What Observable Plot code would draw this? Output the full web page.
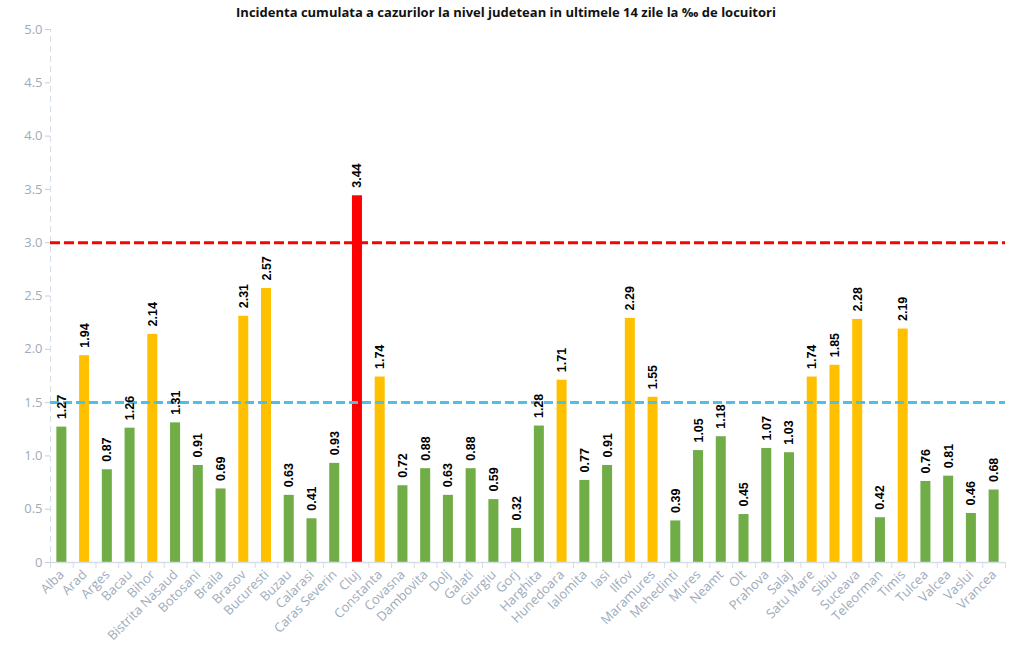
<!DOCTYPE html>
<html><head><meta charset="utf-8">
<script src="https://cdn.jsdelivr.net/npm/d3@7"></script>
<script src="https://cdn.jsdelivr.net/npm/@observablehq/plot@0.6"></script>
<style>
body{margin:0;background:#fff;font-family:"Open Sans",sans-serif;}
#title{height:24px;line-height:24px;text-align:center;font-weight:bold;font-size:13px;color:#111;width:1012px;}
</style></head>
<body>
<div id="title">Incidenta cumulata a cazurilor la nivel judetean in ultimele 14 zile la ‰ de locuitori</div>
<div id="chart"></div>
<script>
const counties = ["Alba","Arad","Arges","Bacau","Bihor","Bistrita Nasaud","Botosani","Braila","Brasov","Bucuresti","Buzau","Calarasi","Caras Severin","Cluj","Constanta","Covasna","Dambovita","Dolj","Galati","Giurgiu","Gorj","Harghita","Hunedoara","Ialomita","Iasi","Ilfov","Maramures","Mehedinti","Mures","Neamt","Olt","Prahova","Salaj","Satu Mare","Sibiu","Suceava","Teleorman","Timis","Tulcea","Valcea","Vaslui","Vrancea"];
const values = [1.27,1.94,0.87,1.26,2.14,1.31,0.91,0.69,2.31,2.57,0.63,0.41,0.93,3.44,1.74,0.72,0.88,0.63,0.88,0.59,0.32,1.28,1.71,0.77,0.91,2.29,1.55,0.39,1.05,1.18,0.45,1.07,1.03,1.74,1.85,2.28,0.42,2.19,0.76,0.81,0.46,0.68];
const thresholds = [1.5, 3.0];
const yTicks = [0,0.5,1.0,1.5,2.0,2.5,3.0,3.5,4.0,4.5,5.0];

const data = counties.map((c,i)=>({county:c, value:values[i]}));
const colorOf = v => v > thresholds[1] ? "#ff0000" : v >= thresholds[0] ? "#ffc000" : "#70ad47";

const W = 1012, H = 622, mL = 50, mR = 7, mT = 5, mB = 84;
const step = (W - mL - mR) / counties.length;
const pxPerUnit = (H - mT - mB) / 5;
const grey = "#9eabbb";

const chart = Plot.plot({
  width: W, height: H,
  marginLeft: mL, marginRight: mR, marginTop: mT, marginBottom: mB,
  style: {fontFamily: "'Open Sans', sans-serif", background: "#fff"},
  x: {domain: counties, paddingInner: 0.56, paddingOuter: 0.28, axis: null},
  y: {domain: [0,5], axis: null},
  marks: [
    Plot.ruleX([0], {x: () => counties[0], dx: -step/2, y1: 0, y2: 5, stroke: "#d5dde6", strokeDasharray: "6,4", strokeWidth: 1}),
    Plot.axisY({ticks: yTicks, tickSize: 5, tickPadding: 3, stroke: "#c5ced8", color: grey, fontSize: 13, label: null,
      tickFormat: d => d === 0 ? "0" : d.toFixed(1), anchor: "left"}),
    Plot.barY(data, {x: "county", y: "value", fill: d => colorOf(d.value)}),
    Plot.ruleY([thresholds[1]], {stroke: "#ff0000", strokeWidth: 3, strokeDasharray: "10,4"}),
    Plot.ruleY([thresholds[0]], {stroke: "#4fbfe8", strokeWidth: 3, strokeDasharray: "9,4"}),
    Plot.ruleY([0], {stroke: "#d5dde6", strokeWidth: 1.5}),
    Plot.ruleX(counties, {x: d => d, dx: -step/2, y1: 0, y2: -6/pxPerUnit, stroke: "#d5dde6"}),
    Plot.ruleX([counties[counties.length-1]], {x: d => d, dx: step/2, y1: 0, y2: -6/pxPerUnit, stroke: "#d5dde6"}),
    Plot.text(counties, {x: d => d, y: -10/pxPerUnit, text: d => d, rotate: -45, textAnchor: "end", lineAnchor: "middle", fill: grey, fontSize: 13}),
    Plot.text(data, {x: "county", y: d => d.value + 8/pxPerUnit, text: d => d.value.toFixed(2), rotate: -90, textAnchor: "start", lineAnchor: "middle", fontWeight: "bold", fontSize: 12.5, fill: "#000", fontFamily: "'Liberation Sans', Arial, sans-serif"})
  ]
});
chart.style.overflow = "visible";
document.getElementById("chart").appendChild(chart);
</script>
</body></html>
